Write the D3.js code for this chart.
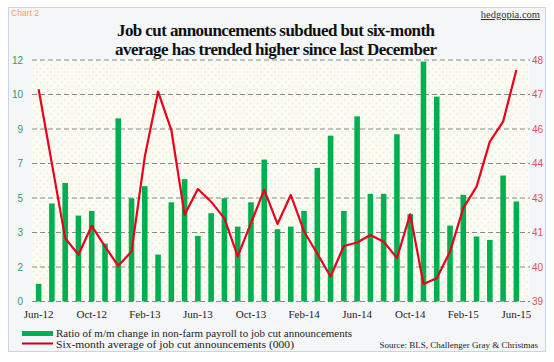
<!DOCTYPE html>
<html><head><meta charset="utf-8">
<script src="https://cdn.jsdelivr.net/npm/d3@7"></script>
<style>body{margin:0;background:#fff}svg{display:block}</style>
</head><body>
<script>
const months = ["Jun-12","Jul-12","Aug-12","Sep-12","Oct-12","Nov-12","Dec-12","Jan-13","Feb-13","Mar-13","Apr-13","May-13","Jun-13","Jul-13","Aug-13","Sep-13","Oct-13","Nov-13","Dec-13","Jan-14","Feb-14","Mar-14","Apr-14","May-14","Jun-14","Jul-14","Aug-14","Sep-14","Oct-14","Nov-14","Dec-14","Jan-15","Feb-15","Mar-15","Apr-15","May-15","Jun-15"];
const ratio = [0.88,4.87,5.89,4.27,4.5,2.88,9.1,5.13,5.73,2.33,4.93,6.08,3.26,4.39,5.13,3.72,4.93,7.05,3.59,3.72,4.5,6.64,8.24,4.5,9.2,5.35,5.35,8.31,4.34,11.92,10.18,3.77,5.3,3.23,3.06,6.26,4.97];
const sixMonthAvg = [46.91,44.14,41.36,40.74,41.82,41.05,40.33,40.86,44.4,46.82,45.39,42.23,43.19,42.72,42.1,40.68,41.92,43.16,41.89,42.97,41.61,40.78,39.93,41.07,41.2,41.48,41.23,40.62,42.25,39.65,39.87,40.86,42.48,43.28,44.96,45.7,47.63];
const leftTickLabels = ["0","2","3","5","7","9","10","12"];
const rightTickLabels = ["39","40","41","43","44","46","47","48"];
const xTickLabels = ["Jun-12","Oct-12","Feb-13","Jun-13","Oct-13","Feb-14","Jun-14","Oct-14","Feb-15","Jun-15"];

const W = 554, H = 362;
const svg = d3.select("body").append("svg").attr("width", W).attr("height", H);
const defs = svg.append("defs");
const pat = defs.append("pattern").attr("id","dots").attr("width",7).attr("height",7).attr("patternUnits","userSpaceOnUse");
pat.append("rect").attr("width",7).attr("height",7).attr("fill","#fbfbf5");
pat.append("circle").attr("cx",2).attr("cy",2).attr("r",0.8).attr("fill","#efeab0");
pat.append("circle").attr("cx",5.5).attr("cy",5.5).attr("r",0.8).attr("fill","#efeab0");

// frame
svg.append("rect").attr("x",8.5).attr("y",7.5).attr("width",537).attr("height",344)
  .attr("fill","#f5f6f8").attr("stroke","#c9d5e6").attr("stroke-width",1);

const plotTop = 60, plotBottom = 301.5, plotLeft = 32, plotRight = 523;
svg.append("rect").attr("x",plotLeft).attr("y",plotTop).attr("width",plotRight+6-plotLeft).attr("height",plotBottom-plotTop).attr("fill","url(#dots)");

const x = d3.scaleBand().domain(months).range([plotLeft, plotRight]).paddingInner(0.58).paddingOuter(0.29);
const yL = d3.scaleLinear().domain([0,12]).range([plotBottom, plotTop]);
const yR = d3.scaleLinear().domain([39,48]).range([plotBottom, plotTop]);
const nT = leftTickLabels.length - 1;
const leftTickVals = leftTickLabels.map((d,i)=> i*12/nT);
const rightTickVals = rightTickLabels.map((d,i)=> 39 + i*9/nT);

// gridlines
svg.append("g").selectAll("line").data(leftTickVals).join("line")
  .attr("x1", plotLeft).attr("x2", 530).attr("y1", d=>yL(d)).attr("y2", d=>yL(d))
  .attr("stroke","#8a8a8a").attr("stroke-width",1).attr("stroke-dasharray","5,3");

// bars
svg.append("g").selectAll("rect").data(ratio).join("rect")
  .attr("x",(d,i)=>x(months[i])).attr("width",x.bandwidth())
  .attr("y",d=>yL(d)).attr("height",d=>plotBottom-yL(d)).attr("fill","#00b050");

// line
const line = d3.line().x((d,i)=>x(months[i])+x.bandwidth()/2).y(d=>yR(d));
svg.append("path").datum(sixMonthAvg).attr("d",line).attr("fill","none")
  .attr("stroke","#e8001c").attr("stroke-width",2.2).attr("stroke-linejoin","round");

// axes
const axL = d3.axisLeft(yL).tickValues(leftTickVals).tickFormat((d,i)=>leftTickLabels[i]).tickSize(0).tickPadding(0);
const gL = svg.append("g").attr("transform","translate(23,0)").call(axL);
gL.select(".domain").remove();
gL.selectAll("text").attr("fill","#2f9e6c").style("font-family","'Liberation Sans',Arial,sans-serif").style("font-size","10px");

const axR = d3.axisRight(yR).tickValues(rightTickVals).tickFormat((d,i)=>rightTickLabels[i]).tickSize(0).tickPadding(0);
const gR = svg.append("g").attr("transform","translate(532,0)").call(axR);
gR.select(".domain").remove();
gR.selectAll("text").attr("fill","#e0505a").style("font-family","'Liberation Sans',Arial,sans-serif").style("font-size","10px");

const axB = d3.axisBottom(x).tickValues(xTickLabels).tickSize(0).tickPadding(0);
const gB = svg.append("g").attr("transform","translate(0,310)").call(axB);
gB.select(".domain").remove();
gB.selectAll("text").attr("fill","#222").attr("dy","0.71em").style("font-family","'Liberation Serif','Times New Roman',serif").style("font-size","11px");

// title
const title = svg.append("g").style("font-family","'Liberation Serif','Times New Roman',serif").style("font-weight","bold").style("font-size","17px").attr("fill","#111");
title.append("text").attr("x",276).attr("y",36).attr("text-anchor","middle").attr("textLength",318).attr("lengthAdjust","spacing").text("Job cut announcements  subdued  but  six-month");
title.append("text").attr("x",276).attr("y",55).attr("text-anchor","middle").attr("textLength",322).attr("lengthAdjust","spacing").text("average  has trended  higher  since last December");

svg.append("text").attr("x",11).attr("y",16).attr("fill","#f3a05a").style("font-family","'Liberation Sans',Arial,sans-serif").style("font-size","8.5px").text("Chart 2");
svg.append("text").attr("x",540).attr("y",18).attr("text-anchor","end").attr("fill","#333").attr("text-decoration","underline").style("font-family","'Liberation Serif',serif").style("font-size","10.5px").text("hedgopia.com");

// legend
svg.append("rect").attr("x",22).attr("y",331).attr("width",31).attr("height",5).attr("fill","#00b050");
svg.append("line").attr("x1",22).attr("x2",53).attr("y1",343.5).attr("y2",343.5).attr("stroke","#c8001c").attr("stroke-width",2);
const lg = svg.append("g").style("font-family","'Liberation Serif','Times New Roman',serif").style("font-size","11px").attr("fill","#222");
lg.append("text").attr("x",56).attr("y",337).attr("textLength",296).attr("lengthAdjust","spacingAndGlyphs").text("Ratio of m/m change in non-farm payroll to job cut announcements");
lg.append("text").attr("x",56).attr("y",348).attr("textLength",238).attr("lengthAdjust","spacingAndGlyphs").text("Six-month average of job cut announcements (000)");
svg.append("text").attr("x",538).attr("y",348).attr("text-anchor","end").attr("fill","#222").style("font-family","'Liberation Serif',serif").style("font-size","9px").text("Source: BLS, Challenger Gray & Christmas");
</script>
</body></html>
